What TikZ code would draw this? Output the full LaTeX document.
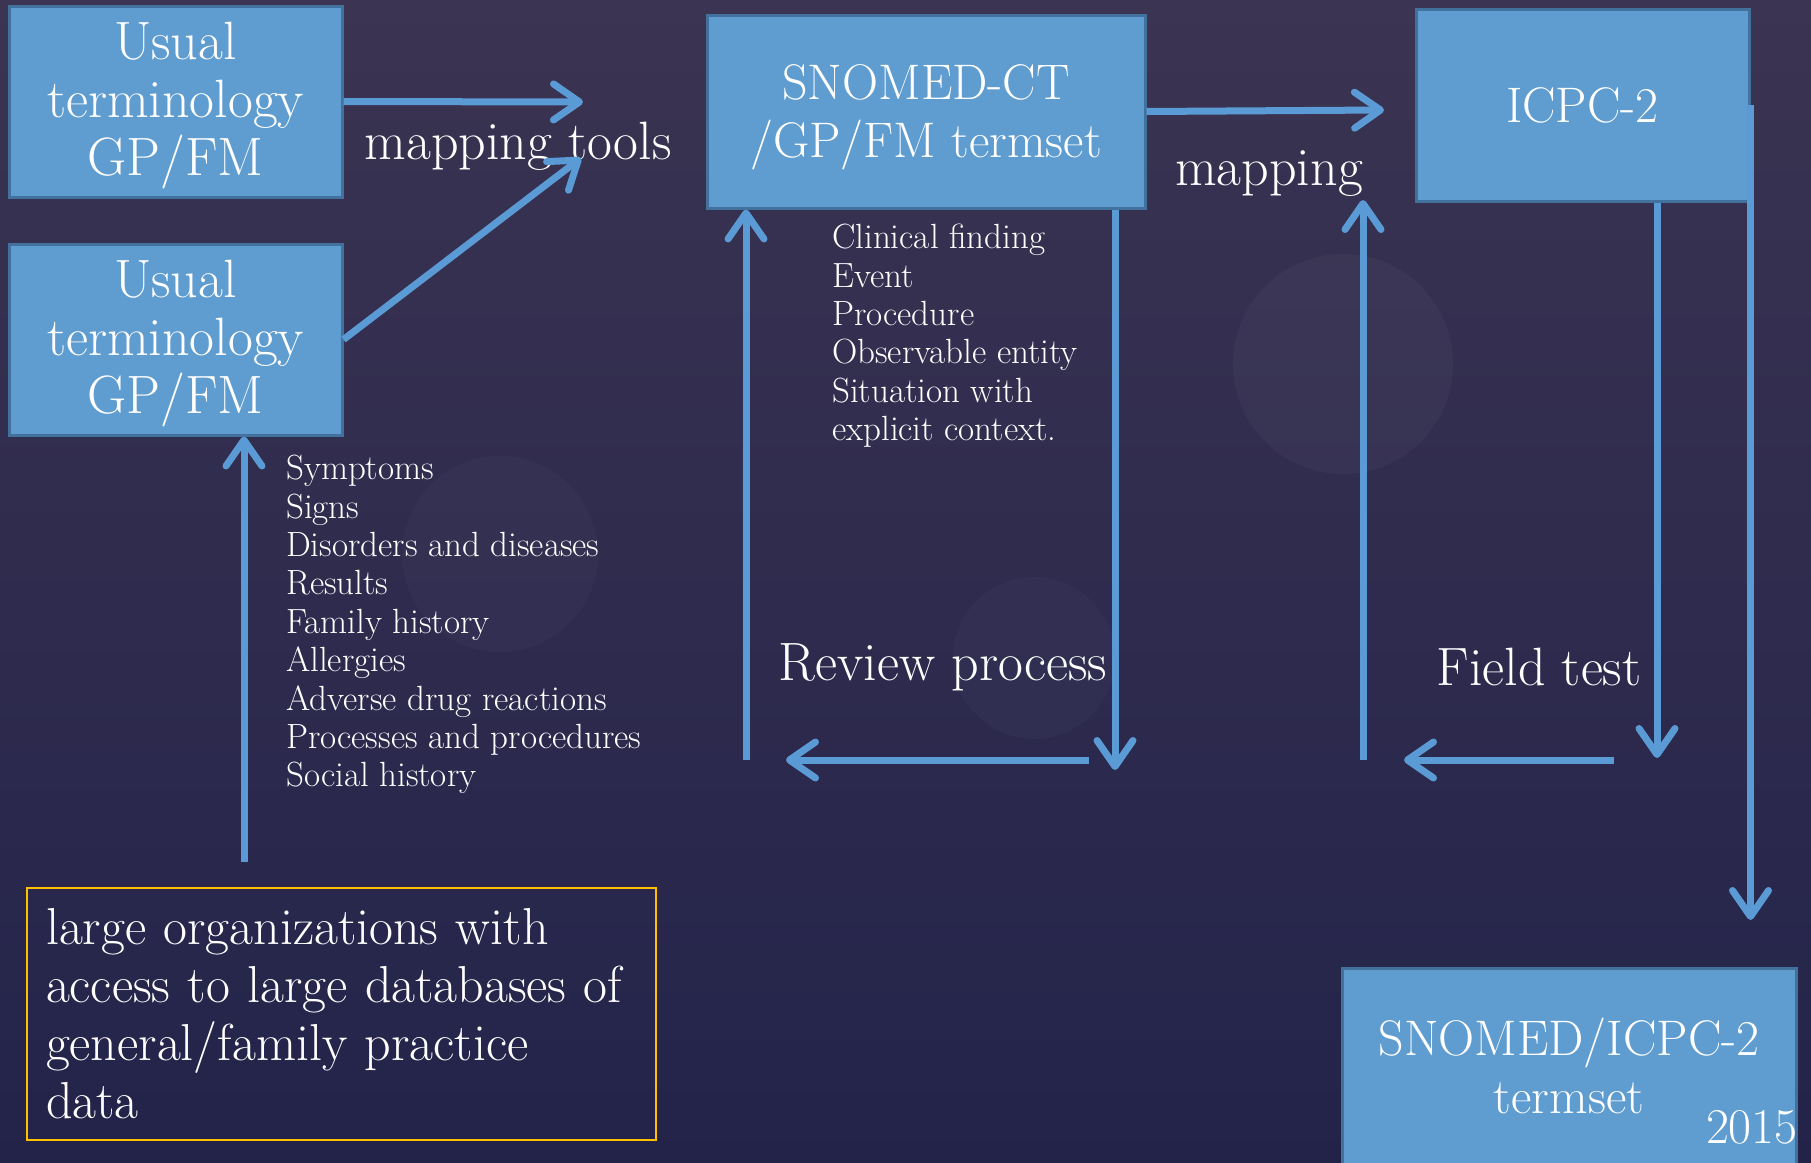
\documentclass[tikz,border=0pt]{standalone}
\usetikzlibrary{positioning, arrows.meta}
\definecolor{bgtop}{HTML}{3B3452}
\definecolor{bgbottom}{HTML}{23234A}
\definecolor{boxfill}{HTML}{5F9CD0}
\definecolor{boxline}{HTML}{41719C}
\definecolor{arrowblue}{HTML}{5B9BD5}
\definecolor{gold}{HTML}{FFC000}

\begin{document}
\begin{tikzpicture}[x=1pt, y=-1pt, node distance=238pt,
    >={Straight Barb[length=26pt, width=36pt, round]}]
        \tikzstyle{term}=[draw=boxline, line width=3pt, fill=boxfill, rectangle, text=white, align=center, font=\fontsize{54}{58}\selectfont, inner sep=0pt];
        \tikzstyle{caps}=[font=\fontsize{50}{58}\selectfont];
        \tikzstyle{lbl}=[text=white, font=\fontsize{54}{58}\selectfont, inner sep=0pt];
        \tikzstyle{list}=[text=white, align=left, font=\fontsize{35}{38.4}\selectfont, inner sep=0pt, anchor=north west];
        \tikzstyle{flow}=[color=arrowblue, line width=7pt];

        \path[use as bounding box, clip] (0,0) rectangle (1811,1162);
        \shade[top color=bgtop, bottom color=bgbottom] (0,0) rectangle (1811,1162);
        \fill[white, opacity=.03] (1343,364) circle (110pt);
        \fill[white, opacity=.025] (500,554) circle (98pt);
        \fill[white, opacity=.025] (1034,658) circle (81pt);

        \node[term, text height=162pt, minimum width=333pt, minimum height=191pt] (usual1) at (175.5,101.5) {Usual\\terminology\\GP/FM};
        \node[term, text height=162pt, minimum width=333pt, minimum height=191pt, below of=usual1] (usual2) {Usual\\terminology\\GP/FM};
        \node[term, caps, text height=104pt, minimum width=438pt, minimum height=193pt] (snomed) at (926,111.5) {SNOMED-CT\\/GP/FM termset};
        \node[term, caps, minimum width=333pt, minimum height=192pt] (icpc) at (1582.5,105) {ICPC-2};
        \node[term, caps, minimum width=454pt, minimum height=196pt] (termset) at (1569,1066) {SNOMED/ICPC-2\\termset};
        \node[lbl, caps, anchor=base east] (year) at (1798,1143) {2015};
        \node[draw=gold, line width=2.5pt, text=white, font=\fontsize{52}{58}\selectfont, align=left, text width=591pt, inner xsep=19pt, minimum height=252pt] (orgs) at (341.5,1014) {large organizations with\\access to large databases of\\general/family practice\\data};

        \node[lbl, anchor=base] (tools) at (518,159) {mapping tools};
        \node[lbl, anchor=base] (mapping) at (1269,185) {mapping};
        \node[lbl, anchor=base] (review) at (943,680) {Review process};
        \node[lbl, anchor=base] (field) at (1539,685) {Field test};

        \node[list] (snolist) at (832,224) {Clinical finding\\Event\\Procedure\\Observable entity\\Situation with\\explicit context.};
        \node[list] (usuallist) at (286,455) {Symptoms\\Signs\\Disorders and diseases\\Results\\Family history\\Allergies\\Adverse drug reactions\\Processes and procedures\\Social history};

        \coordinate (toolsA) at (583,102);
        \coordinate (toolsB) at (581,158);
        \coordinate (mapA) at (1384,110);
        \coordinate (finalin) at (1751,920);
        \coordinate (fieldA) at (1657,758);
        \coordinate (fieldB) at (1614,760);
        \coordinate (fieldC) at (1404,760);
        \coordinate (fieldD) at (1363,760);
        \coordinate (fieldE) at (1363,200);
        \coordinate (revA) at (1115,770);
        \coordinate (revB) at (1089,760);
        \coordinate (revC) at (786,760);
        \coordinate (revD) at (746,760);
        \coordinate (dataup) at (244,862);

        \path[->, flow]
        (usual1.east) edge (toolsA)
        (usual2.east) edge (toolsB)
        (snomed.east) edge (mapA)
        (icpc.east) edge (icpc.east |- finalin)
        (icpc.south -| fieldA) edge (fieldA)
        (fieldB) edge (fieldC)
        (fieldD) edge (fieldE)
        (snomed.south -| revA) edge (revA)
        (revB) edge (revC)
        (revD) edge (revD |- snomed.south)
        (dataup) edge (dataup |- usual2.south);
\end{tikzpicture}
\end{document}
